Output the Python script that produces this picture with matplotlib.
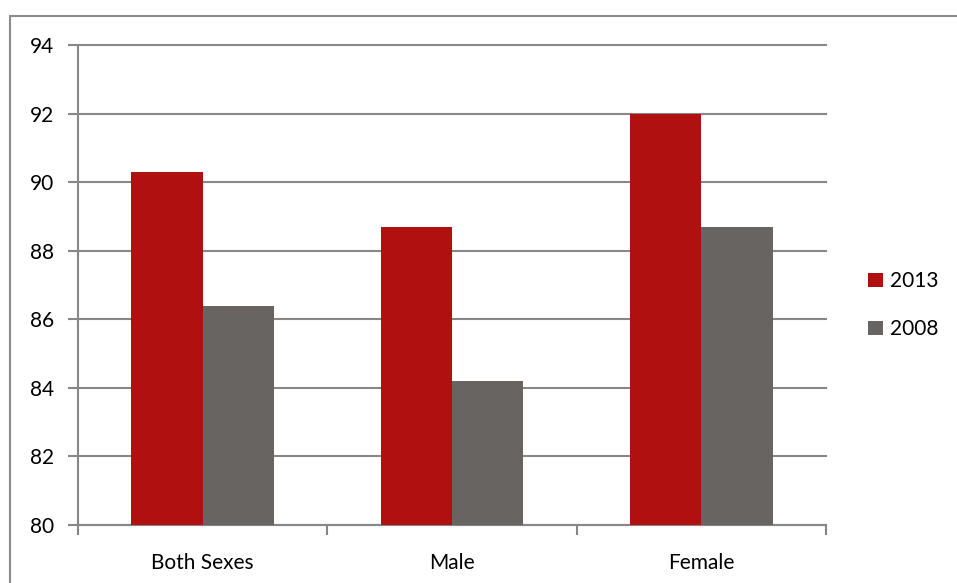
import matplotlib
matplotlib.use("Agg")
import matplotlib.pyplot as plt
from matplotlib.patches import Rectangle
import numpy as np

categories = ["Both Sexes", "Male", "Female"]
series_names = ["2013", "2008"]
values_2013 = [90.3, 88.7, 92.0]
values_2008 = [86.4, 84.2, 88.7]
yticks = [80, 82, 84, 86, 88, 90, 92, 94]

plt.rcParams['font.family'] = ['Lato', 'DejaVu Sans']

W, H = 957, 583
fig = plt.figure(figsize=(W / 100, H / 100), dpi=100)
fig.patch.set_facecolor("white")

# outer chart border
fig.patches.append(Rectangle((10 / W, -0.05), 1.0, 1 - 16 / H + 0.05,
                             transform=fig.transFigure, fill=False,
                             edgecolor="#8c8c8c", linewidth=1.5))

ax = fig.add_axes([78 / W, 58 / H, (826 - 78) / W, (525 - 45.5) / H])

red = "#B11010"
grey = "#686462"
grid = "#878787"
fs = 15

x = np.arange(len(categories))
bw = 1 / 3.5
b1 = ax.bar(x - bw / 2, np.array(values_2013) - 80, bw, bottom=80, color=red,
            label=series_names[0], zorder=3)
b2 = ax.bar(x + bw / 2, np.array(values_2008) - 80, bw, bottom=80, color=grey,
            label=series_names[1], zorder=3)

ax.set_xlim(-0.5, 2.5)
ax.set_ylim(80, 94)
ax.set_yticks(yticks)
ax.set_yticklabels([str(t) for t in yticks])
ax.yaxis.grid(True, color=grid, linewidth=1.5, zorder=0)
for gl in ax.get_ygridlines():
    gl.set_clip_on(False)
ax.set_axisbelow(True)

ax.set_xticks(x)
ax.set_xticklabels(categories)
ax.set_xticks([-0.5, 0.5, 1.5, 2.5], minor=True)
ax.tick_params(axis="x", which="major", length=0, pad=20, labelsize=fs)
ax.tick_params(axis="x", which="minor", length=7, width=1.5, color=grid)
ax.tick_params(axis="y", length=7, width=1.5, color=grid, pad=10, labelsize=fs)

for s in ["top", "right"]:
    ax.spines[s].set_visible(False)
for s in ["left", "bottom"]:
    ax.spines[s].set_color(grid)
    ax.spines[s].set_linewidth(1.5)

leg = fig.legend(handles=[b1, b2], labels=series_names, loc="upper left",
                 bbox_to_anchor=(860 / W, 1 - 263 / H), frameon=False,
                 fontsize=fs, handlelength=0.7, handleheight=0.7,
                 handletextpad=0.35, labelspacing=1.35, borderaxespad=0)

fig.savefig("out.png", dpi=100, facecolor="white")
